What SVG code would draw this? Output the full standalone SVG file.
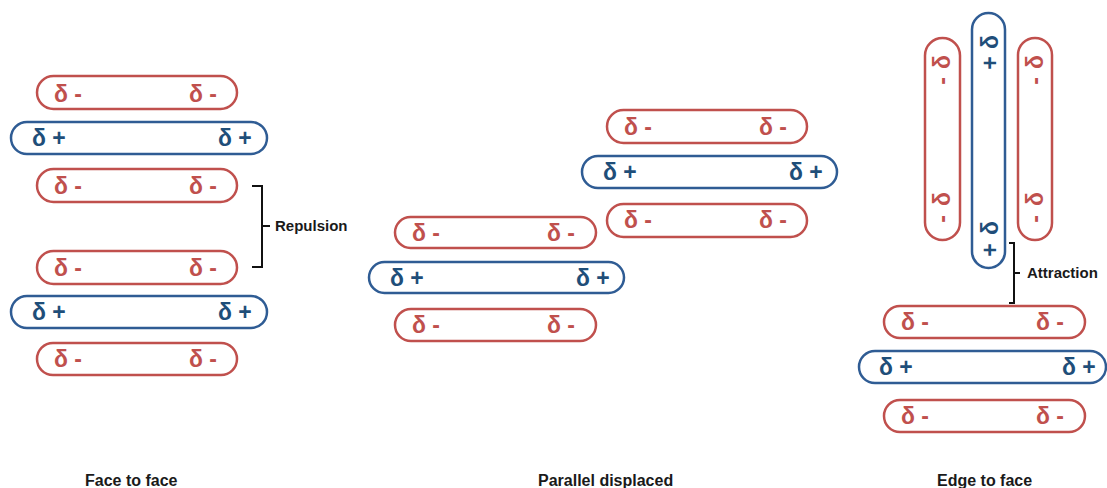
<svg xmlns="http://www.w3.org/2000/svg" width="1107" height="488" viewBox="0 0 1107 488">
<style>
.r{fill:#fff;stroke:#C0504D;stroke-width:2.5}
.b{fill:#fff;stroke:#2F5C94;stroke-width:2.5}
.tr{font-family:"Liberation Sans",Arial,sans-serif;font-size:23px;font-weight:bold;fill:#C0504D}
.tb{font-family:"Liberation Sans",Arial,sans-serif;font-size:23px;font-weight:bold;fill:#1F4E79}
.v{text-anchor:middle}
.lab{font-family:"Liberation Sans",Arial,sans-serif;font-size:15px;font-weight:bold;fill:#1a1a1a}
.cap{font-family:"Liberation Sans",Arial,sans-serif;font-size:16px;font-weight:bold;fill:#1a1a1a}
.br{fill:none;stroke:#111;stroke-width:2}
</style>
<rect width="1107" height="488" fill="#fff"/>

<!-- Face to face -->
<g id="ff-r1"><rect class="r" x="37" y="76" width="200" height="33" rx="16.5"/><text class="tr" x="54" y="102">δ -</text><text class="tr" x="189" y="102">δ -</text></g>
<g id="ff-b1"><rect class="b" x="11" y="122" width="256" height="32" rx="16"/><text class="tb" x="32" y="146">δ +</text><text class="tb" x="218" y="146">δ +</text></g>
<g id="ff-r2"><rect class="r" x="37" y="169" width="200" height="33" rx="16.5"/><text class="tr" x="54" y="194">δ -</text><text class="tr" x="189" y="194">δ -</text></g>
<g id="ff-r3"><rect class="r" x="37" y="251" width="200" height="33" rx="16.5"/><text class="tr" x="54" y="276">δ -</text><text class="tr" x="189" y="276">δ -</text></g>
<g id="ff-b2"><rect class="b" x="11" y="296" width="256" height="32" rx="16"/><text class="tb" x="32" y="320">δ +</text><text class="tb" x="218" y="320">δ +</text></g>
<g id="ff-r4"><rect class="r" x="37" y="343" width="200" height="32" rx="16"/><text class="tr" x="54" y="367">δ -</text><text class="tr" x="189" y="367">δ -</text></g>

<!-- Parallel displaced -->
<g id="pd-r1"><rect class="r" x="607" y="110" width="200" height="33" rx="16.5"/><text class="tr" x="624" y="135">δ -</text><text class="tr" x="759" y="135">δ -</text></g>
<g id="pd-b1"><rect class="b" x="582" y="156" width="255" height="32" rx="16"/><text class="tb" x="603" y="180">δ +</text><text class="tb" x="789" y="180">δ +</text></g>
<g id="pd-r2"><rect class="r" x="607" y="204" width="200" height="33" rx="16.5"/><text class="tr" x="624" y="228">δ -</text><text class="tr" x="759" y="228">δ -</text></g>
<g id="pd-r3"><rect class="r" x="395" y="217" width="201" height="31" rx="15.5"/><text class="tr" x="412" y="241">δ -</text><text class="tr" x="547" y="241">δ -</text></g>
<g id="pd-b2"><rect class="b" x="369" y="262" width="255" height="31" rx="15.5"/><text class="tb" x="390" y="286">δ +</text><text class="tb" x="576" y="286">δ +</text></g>
<g id="pd-r4"><rect class="r" x="395" y="309" width="201" height="32" rx="16"/><text class="tr" x="412" y="333">δ -</text><text class="tr" x="547" y="333">δ -</text></g>

<!-- Edge to face -->
<g id="ef-vr1"><rect class="r" x="925" y="38" width="35" height="202" rx="17.5"/>
<text class="tr v" transform="translate(950,62) rotate(-90)">δ</text><text class="tr v" transform="translate(950,81) rotate(-90)">-</text>
<text class="tr v" transform="translate(950,199) rotate(-90)">δ</text><text class="tr v" transform="translate(950,219) rotate(-90)">-</text></g>
<g id="ef-vb"><rect class="b" x="972" y="13" width="33" height="255" rx="16.5"/>
<text class="tb v" transform="translate(998,42) rotate(-90)">δ</text><text class="tb v" transform="translate(998,63) rotate(-90)">+</text>
<text class="tb v" transform="translate(998,228) rotate(-90)">δ</text><text class="tb v" transform="translate(998,250) rotate(-90)">+</text></g>
<g id="ef-vr2"><rect class="r" x="1018" y="38" width="34" height="202" rx="17"/>
<text class="tr v" transform="translate(1043,62) rotate(-90)">δ</text><text class="tr v" transform="translate(1043,81) rotate(-90)">-</text>
<text class="tr v" transform="translate(1043,199) rotate(-90)">δ</text><text class="tr v" transform="translate(1043,219) rotate(-90)">-</text></g>
<g id="ef-r1"><rect class="r" x="884" y="306" width="201" height="32" rx="16"/><text class="tr" x="901" y="330">δ -</text><text class="tr" x="1036" y="330">δ -</text></g>
<g id="ef-b1"><rect class="b" x="859" y="351" width="247" height="32" rx="16"/><text class="tb" x="879" y="375">δ +</text><text class="tb" x="1062" y="375">δ +</text></g>
<g id="ef-r2"><rect class="r" x="884" y="400" width="201" height="32" rx="16"/><text class="tr" x="901" y="424">δ -</text><text class="tr" x="1036" y="424">δ -</text></g>

<!-- Brackets -->
<g id="connectors">
<path class="br" d="M252,186 H262 V267 H252 M262,226 H270"/>
<path class="br" d="M1009,243 H1014 V303 H1009 M1014,273 H1020"/>
</g>
<g id="labels">
<text class="lab" x="275" y="231">Repulsion</text>
<text class="lab" x="1027" y="278">Attraction</text>
<text class="cap" x="85" y="486">Face to face</text>
<text class="cap" x="538" y="486">Parallel displaced</text>
<text class="cap" x="937" y="486">Edge to face</text>
</g>
</svg>
